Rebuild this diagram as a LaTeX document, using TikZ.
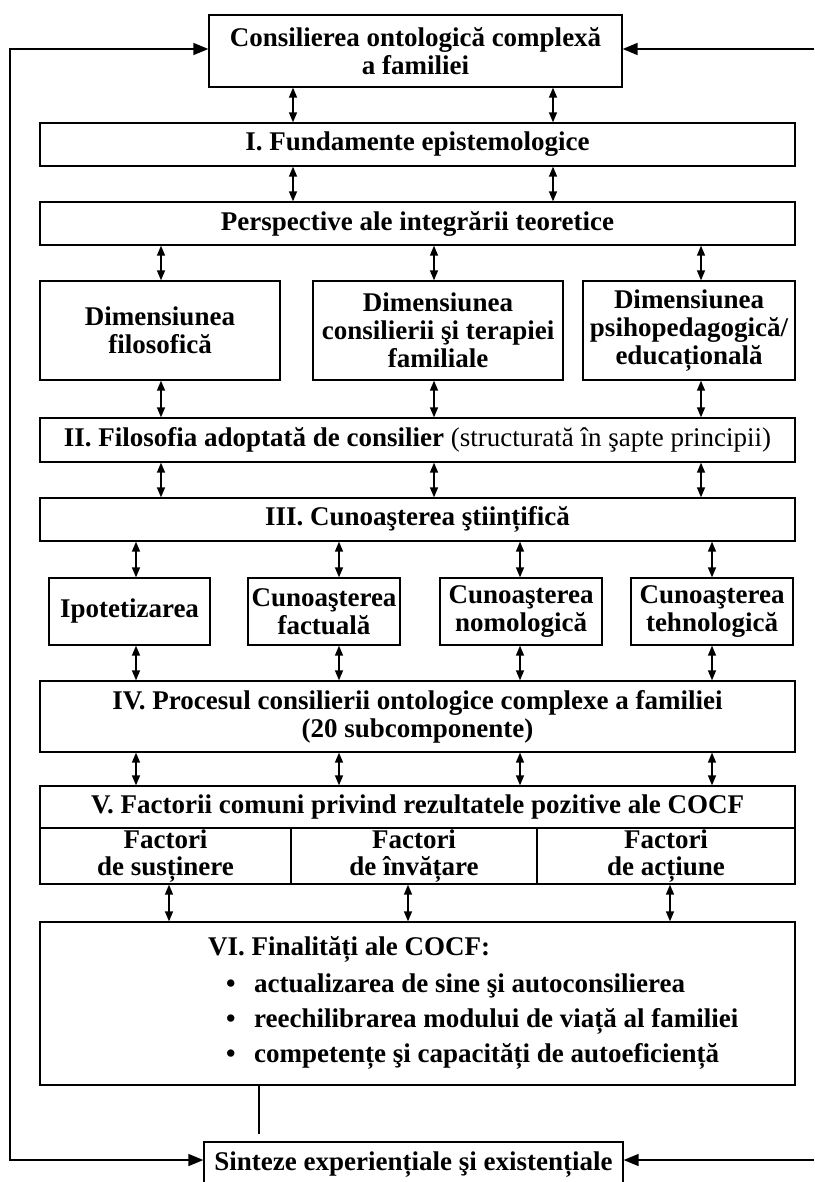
\documentclass[tikz,border=0pt]{standalone}
\usepackage{fontspec}
\setmainfont{Liberation Serif}
\usetikzlibrary{arrows.meta}

\begin{document}
\begin{tikzpicture}[x=1pt, y=-1pt,
	box/.style={draw, line width=1.3pt, rectangle, align=center, inner sep=1pt, font=\fontsize{27}{28}\selectfont\bfseries},
	cell/.style={box, minimum height=56pt, font=\fontsize{27}{27}\selectfont\bfseries},
	txt/.style={inner sep=0pt, font=\fontsize{27}{28}\selectfont\bfseries},
	dbl/.style={{Triangle[length=10pt,width=8pt]}-{Triangle[length=10pt,width=8pt]}, line width=1.4pt},
	fb/.style={-{Triangle[length=15pt,width=12pt]}, line width=1.6pt}]
	\clip (0,0) rectangle (814,1182);
	% boxes, top to bottom
	\node[box, minimum width=413pt, minimum height=72pt] (top) at (415.5,51) {Consilierea ontologică complexă\\ a familiei};
	\node[box, minimum width=755pt, minimum height=43pt] (fund) at (417.5,144.5) {I. Fundamente epistemologice};
	\node[box, minimum width=755pt, minimum height=43pt] (persp) at (417.5,223.5) {Perspective ale integrării teoretice};
	\node[box, minimum width=240pt, minimum height=99pt] (dimfil) at (160,330.5) {Dimensiunea\\ filosofică};
	\node[box, minimum width=250pt, minimum height=99pt] (dimcons) at (438,330.5) {Dimensiunea\\ consilierii şi terapiei\\ familiale};
	\node[box, minimum width=212pt, minimum height=99pt] (dimpsi) at (689,330.5) {Dimensiunea\\ psihopedagogică/\\ educațională};
	\node[box, minimum width=755pt, minimum height=44pt] (filos) at (417.5,440) {II. Filosofia adoptată de consilier \mdseries(structurată în şapte principii)};
	\node[box, minimum width=755pt, minimum height=43pt] (cunst) at (417.5,519.5) {III. Cunoaşterea ştiințifică};
	\node[box, minimum width=161pt, minimum height=67pt] (ipot) at (129.5,611.5) {Ipotetizarea};
	\node[box, minimum width=152pt, minimum height=67pt] (fact) at (324,611.5) {Cunoaşterea\\ factuală};
	\node[box, minimum width=162pt, minimum height=67pt] (nomo) at (521,611.5) {Cunoaşterea\\ nomologică};
	\node[box, minimum width=162pt, minimum height=67pt] (tehn) at (712,611.5) {Cunoaşterea\\ tehnologică};
	\node[box, minimum width=755pt, minimum height=71pt] (proc) at (417.5,716.5) {IV. Procesul consilierii ontologice complexe a familiei\\ (20 subcomponente)};
	\node[box, minimum width=755pt, minimum height=42pt] (fact5) at (417.5,807) {V. Factorii comuni privind rezultatele pozitive ale COCF};
	\node[cell, minimum width=251pt] (sust) at (165.5,856) {Factori\\ de susținere};
	\node[cell, minimum width=246pt] (inv) at (414,856) {Factori\\ de învățare};
	\node[cell, minimum width=258pt] (act) at (666,856) {Factori\\ de acțiune};
	\node[box, minimum width=755pt, minimum height=163pt] (fin) at (417.5,1003.5) {};
	\node[txt, anchor=base west] (fint) at (208,955) {VI. Finalități ale COCF:};
	\node[txt, anchor=base west] (fin1) at (226,992) {\makebox[28pt][l]{\textbullet}actualizarea de sine şi autoconsilierea};
	\node[txt, anchor=base west] (fin2) at (226,1027) {\makebox[28pt][l]{\textbullet}reechilibrarea modului de viață al familiei};
	\node[txt, anchor=base west] (fin3) at (226,1062) {\makebox[28pt][l]{\textbullet}competențe şi capacități de autoeficiență};
	\node[box, minimum width=419pt, minimum height=46pt] (sint) at (413.5,1165) {Sinteze experiențiale şi existențiale};
	% feedback loop
	\coordinate (lt) at (10,49);
	\coordinate (lb) at (10,1160);
	\coordinate (rt) at (814,49);
	\coordinate (rb) at (814,1160);
	\draw[fb, {Triangle[length=15pt,width=12pt]}-{Triangle[length=15pt,width=12pt]}] (top.west |- lt) -- (lt) -- (lb) -- (sint.west |- lb);
	\draw[fb] (rt) -- (top.east |- rt);
	\draw[fb] (rb) -- (sint.east |- rb);
	% double arrows
	\draw[dbl] (top.south -| 293,0) -- (fund.north -| 293,0);
	\draw[dbl] (top.south -| 553,0) -- (fund.north -| 553,0);
	\draw[dbl] (fund.south -| 293,0) -- (persp.north -| 293,0);
	\draw[dbl] (fund.south -| 553,0) -- (persp.north -| 553,0);
	\draw[dbl] (persp.south -| 161,0) -- (dimfil.north -| 161,0);
	\draw[dbl] (persp.south -| 434,0) -- (dimcons.north -| 434,0);
	\draw[dbl] (persp.south -| 701,0) -- (dimpsi.north -| 701,0);
	\draw[dbl] (dimfil.south -| 161,0) -- (filos.north -| 161,0);
	\draw[dbl] (dimcons.south -| 434,0) -- (filos.north -| 434,0);
	\draw[dbl] (dimpsi.south -| 701,0) -- (filos.north -| 701,0);
	\draw[dbl] (filos.south -| 161,0) -- (cunst.north -| 161,0);
	\draw[dbl] (filos.south -| 434,0) -- (cunst.north -| 434,0);
	\draw[dbl] (filos.south -| 701,0) -- (cunst.north -| 701,0);
	\draw[dbl] (cunst.south -| 136,0) -- (ipot.north -| 136,0);
	\draw[dbl] (cunst.south -| 339,0) -- (fact.north -| 339,0);
	\draw[dbl] (cunst.south -| 520,0) -- (nomo.north -| 520,0);
	\draw[dbl] (cunst.south -| 712,0) -- (tehn.north -| 712,0);
	\draw[dbl] (ipot.south -| 136,0) -- (proc.north -| 136,0);
	\draw[dbl] (fact.south -| 339,0) -- (proc.north -| 339,0);
	\draw[dbl] (nomo.south -| 520,0) -- (proc.north -| 520,0);
	\draw[dbl] (tehn.south -| 712,0) -- (proc.north -| 712,0);
	\draw[dbl] (proc.south -| 136,0) -- (fact5.north -| 136,0);
	\draw[dbl] (proc.south -| 339,0) -- (fact5.north -| 339,0);
	\draw[dbl] (proc.south -| 520,0) -- (fact5.north -| 520,0);
	\draw[dbl] (proc.south -| 712,0) -- (fact5.north -| 712,0);
	\draw[dbl] (sust.south -| 169,0) -- (fin.north -| 169,0);
	\draw[dbl] (inv.south -| 408,0) -- (fin.north -| 408,0);
	\draw[dbl] (act.south -| 670,0) -- (fin.north -| 670,0);
	\draw[line width=1.3pt, shorten >=7pt] (fin.south -| 259,0) -- (sint.north -| 259,0);
\end{tikzpicture}
\end{document}
